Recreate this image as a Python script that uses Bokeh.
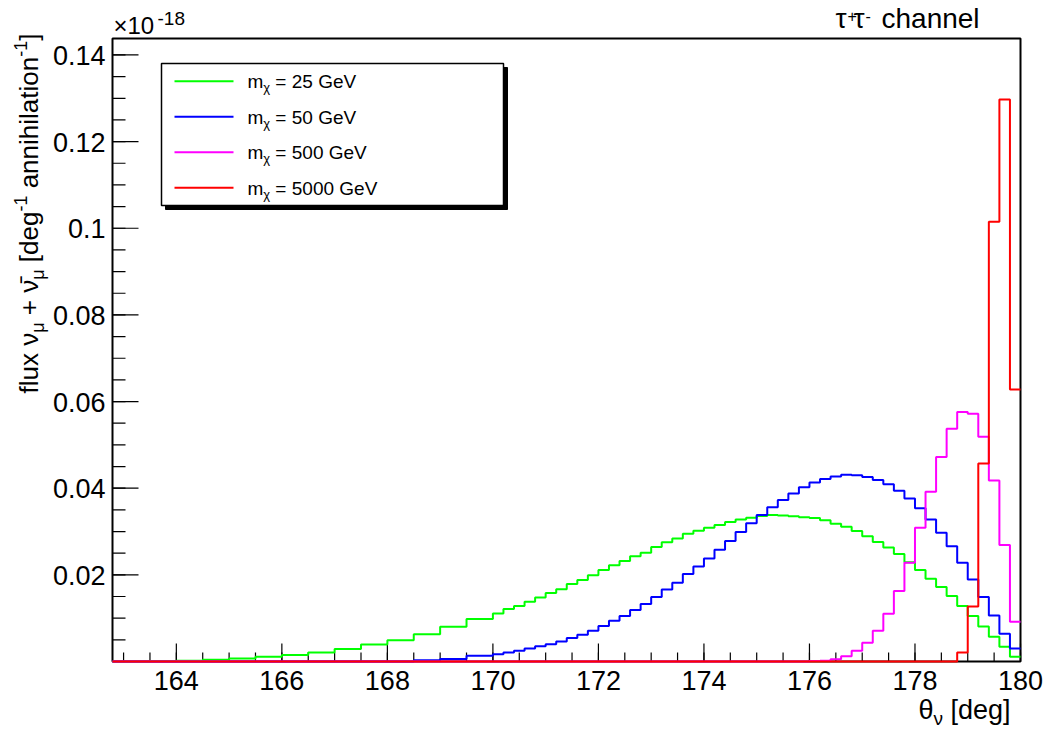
import math
from bokeh.plotting import figure
from bokeh.models import Range1d, Label
from bokeh.core.properties import value
from bokeh.embed import file_html
from bokeh.resources import INLINE

FONT = "Liberation Sans"
BASE_FIX = 0.37   # rendered alphabetic baseline sits ~0.37 em lower than requested

# ---------------- data (flux in units of 1e-18 deg^-1 annihilation^-1) ----------------
# bin edges in degrees: 0.5 deg bins below 170, 0.2 deg bins above
edges = [162.5, 163.0, 163.5, 164.0, 164.5, 165.0, 165.5, 166.0, 166.5, 167.0,
         167.5, 168.0, 168.5, 169.0, 169.5, 170.0] + [round(170.2 + 0.2 * i, 1) for i in range(50)]

flux_25 = [0.0, 0.0, 0.0001, 0.0002, 0.0004, 0.0007, 0.0011, 0.0015, 0.0021, 0.0029,
           0.0039, 0.0049, 0.0063, 0.0080, 0.0098,
           0.0111, 0.0121, 0.0128, 0.0138, 0.0148, 0.0158, 0.0167, 0.0179, 0.0188, 0.0199,
           0.0211, 0.0222, 0.0232, 0.0243, 0.0251, 0.0264, 0.0275, 0.0284, 0.0295, 0.0302,
           0.0309, 0.0315, 0.0322, 0.0328, 0.0332, 0.0336, 0.0338, 0.0337, 0.0335, 0.0333,
           0.0331, 0.0326, 0.0318, 0.0311, 0.0301, 0.0289, 0.0276, 0.0263, 0.0248, 0.0229,
           0.0211, 0.0191, 0.0172, 0.0151, 0.0128, 0.0105, 0.0081, 0.0057, 0.0034, 0.0011]

flux_50 = [0.0] * 12 + [0.0003, 0.0006, 0.0013] + [
           0.0017, 0.0021, 0.0025, 0.0030, 0.0035, 0.0040, 0.0046, 0.0054, 0.0062, 0.0071,
           0.0082, 0.0094, 0.0105, 0.0119, 0.0133, 0.0149, 0.0166, 0.0182, 0.0202, 0.0219,
           0.0238, 0.0258, 0.0278, 0.0299, 0.0319, 0.0338, 0.0356, 0.0373, 0.0388, 0.0402,
           0.0413, 0.0421, 0.0427, 0.0431, 0.0430, 0.0426, 0.0419, 0.0409, 0.0394, 0.0376,
           0.0354, 0.0328, 0.0297, 0.0266, 0.0228, 0.0189, 0.0149, 0.0106, 0.0064, 0.0030]

flux_500 = [0.0] * 45 + [
           0.0001, 0.0002, 0.0005, 0.0012, 0.0025, 0.0043, 0.0071, 0.0110, 0.0163, 0.0228,
           0.0309, 0.0392, 0.0472, 0.0537, 0.0576, 0.0572, 0.0519, 0.0418, 0.0269, 0.0092]

flux_5000 = [0.0] * 59 + [0.0021, 0.0127, 0.0457, 0.1015, 0.1297, 0.0628]

series_labels = ["25", "50", "500", "5000"]
series_values = [flux_25, flux_50, flux_500, flux_5000]
series_colors = ["#00ff00", "#0000ff", "#ff00ff", "#ff0000"]

x_ticks = [164, 166, 168, 170, 172, 174, 176, 178, 180]
x_tick_labels = ["164", "166", "168", "170", "172", "174", "176", "178", "180"]
x_minor = [163.0 + 0.5 * i for i in range(35)]
y_ticks = [0.02, 0.04, 0.06, 0.08, 0.1, 0.12, 0.14]
y_tick_labels = ["0.02", "0.04", "0.06", "0.08", "0.1", "0.12", "0.14"]
y_minor = [round(0.005 * i, 3) for i in range(1, 29)]

X0, X1 = 162.79, 180.0      # axis range
Y0, Y1 = 0.0, 0.1438

# ---------------- layout: frame fills canvas, axes drawn on the data frame ----------------
W, H = 1048, 729
L, R, T, B = 112, 1020, 38, 661           # axis box in pixels
kx = (R - L) / (X1 - X0)
ky = (B - T) / (Y1 - Y0)
XS, XE = X0 - L / kx, X1 + (W - R) / kx
YS, YE = Y0 - (H - B) / ky, Y1 + T / ky

p = figure(width=W, height=H, output_backend="svg", toolbar_location=None,
           x_range=Range1d(XS, XE), y_range=Range1d(YS, YE), min_border=0)
p.axis.visible = False
p.grid.visible = False
p.outline_line_color = None
p.background_fill_color = "white"
p.border_fill_color = "white"


def dx(px):
    return XS + px / kx


def dy(py):
    return YE - py / ky


# axis box
p.quad(left=[X0], right=[X1], bottom=[Y0], top=[Y1], fill_color=None,
       line_color="black", line_width=2)

# ticks (pointing inward)
p.segment(x0=x_ticks, x1=x_ticks, y0=[Y0] * len(x_ticks), y1=[Y0 + 18 / ky] * len(x_ticks),
          line_color="black", line_width=1.2)
p.segment(x0=x_minor, x1=x_minor, y0=[Y0] * len(x_minor), y1=[Y0 + 9 / ky] * len(x_minor),
          line_color="black", line_width=1.2)
p.segment(x0=[X0] * len(y_ticks), x1=[X0 + 26 / kx] * len(y_ticks), y0=y_ticks, y1=y_ticks,
          line_color="black", line_width=1.2)
p.segment(x0=[X0] * len(y_minor), x1=[X0 + 13 / kx] * len(y_minor), y0=y_minor, y1=y_minor,
          line_color="black", line_width=1.2)

# tick labels
TL = 27
p.text(x=x_ticks, y=[dy(690 - BASE_FIX * TL)] * len(x_ticks), text=x_tick_labels,
       text_font=value(FONT), text_font_size=value(f"{TL}px"), text_color="black",
       text_align="center", text_baseline="alphabetic")
p.text(x=[dx(105)] * len(y_ticks), y=[t - (10.5 - BASE_FIX * TL) / ky for t in y_ticks],
       text=y_tick_labels, text_font=value(FONT), text_font_size=value(f"{TL}px"),
       text_color="black", text_align="right", text_baseline="alphabetic")

# ---------------- histograms ----------------
for vals, col in zip(series_values, series_colors):
    xs, ys = [], []
    for i, v in enumerate(vals):
        xs += [max(edges[i], X0), max(edges[i + 1], X0)]
        ys += [v, v]
    p.line(xs, ys, line_color=col, line_width=2)

# ---------------- text helpers ----------------
WID = {' ': 278, 'f': 278, 'l': 222, 'u': 556, 'x': 500, '+': 584, '[': 278, ']': 278,
       'd': 556, 'e': 556, 'g': 556, 'a': 556, 'n': 556, 'i': 222, 'h': 556, 't': 278,
       'o': 556, '-': 333, '1': 556, 'ν': 500, 'μ': 577, 'θ': 556, 'c': 500, 'm': 833,
       'χ': 520, 'τ': 440, '=': 584, 'G': 778, 'V': 667, '\u0304': 0}


def tw(s, size):
    return sum(WID.get(ch, 556) for ch in s) * size / 1000.0


def add_text(px, py, text, size, angle=0.0, align="left"):
    if angle == 0.0:
        py = py - BASE_FIX * size
    else:
        px = px - BASE_FIX * size
    p.add_layout(Label(x=dx(px), y=dy(py), text=text, text_font=FONT,
                       text_font_size=f"{size}px", text_color="black",
                       angle=angle, text_align=align, text_baseline="alphabetic"))


def run(pieces, start, base, vertical=False):
    """pieces: (text, size, shift); shift>0 = subscript (down in text frame)."""
    cur = start
    for text, size, shift in pieces:
        lead = len(text) - len(text.lstrip(' '))
        cur_eff = cur + (-1 if vertical else 1) * tw(' ' * lead, size)
        t = text.strip(' ')
        if t:
            if vertical:
                add_text(base + shift, cur_eff, t, size, angle=math.pi / 2)
            else:
                add_text(cur_eff, base + shift, t, size)
        w = tw(text, size)
        cur = cur - w if vertical else cur + w
    return cur


# y axis title (rotated)
F = 26
S = 18
run([("flux ν", F, 0), ("μ", S, 6), (" + ν\u0304", F, 0), ("μ", S, 6),
     (" [deg", F, 0), ("-1", S, -11), (" annihilation", F, 0), ("-1", S, -11), ("]", F, 0)],
    start=393, base=38, vertical=True)

# x axis title
FX = 27
xt = [("θ", FX, 0), ("ν", 19, 6), (" [deg]", FX, 0)]
xt_w = sum(tw(t, s) for t, s, _ in xt)
run(xt, start=1010 - xt_w, base=719)

# exponent
add_text(113, 34, "×10", 24)
add_text(157, 25, "-18", 19)

# title (kept inside the top edge)
add_text(835, 28, "τ", 28)
add_text(847, 21, "+", 16)
add_text(853, 28, "τ", 28)
add_text(865, 21, "-", 16)
add_text(881, 28, "channel", 28)

# ---------------- legend ----------------
p.quad(left=[dx(165)], right=[dx(507)], top=[dy(67)], bottom=[dy(209)],
       fill_color="black", line_color="black")
p.quad(left=[dx(161)], right=[dx(503)], top=[dy(63)], bottom=[dy(205)], fill_color="white",
       line_color="black", line_width=1.5)
rows = [80.7, 116.2, 151.7, 187.2]
for lab, col, r in zip(series_labels, series_colors, rows):
    p.segment(x0=[dx(174)], x1=[dx(233)], y0=[dy(r)], y1=[dy(r)], line_color=col, line_width=2)
    run([("m", 19, 0), ("χ", 13, 4), (f" = {lab} GeV", 19, 0)], start=247, base=r + 7.5)

open("out.html", "w").write(file_html(p, INLINE))
